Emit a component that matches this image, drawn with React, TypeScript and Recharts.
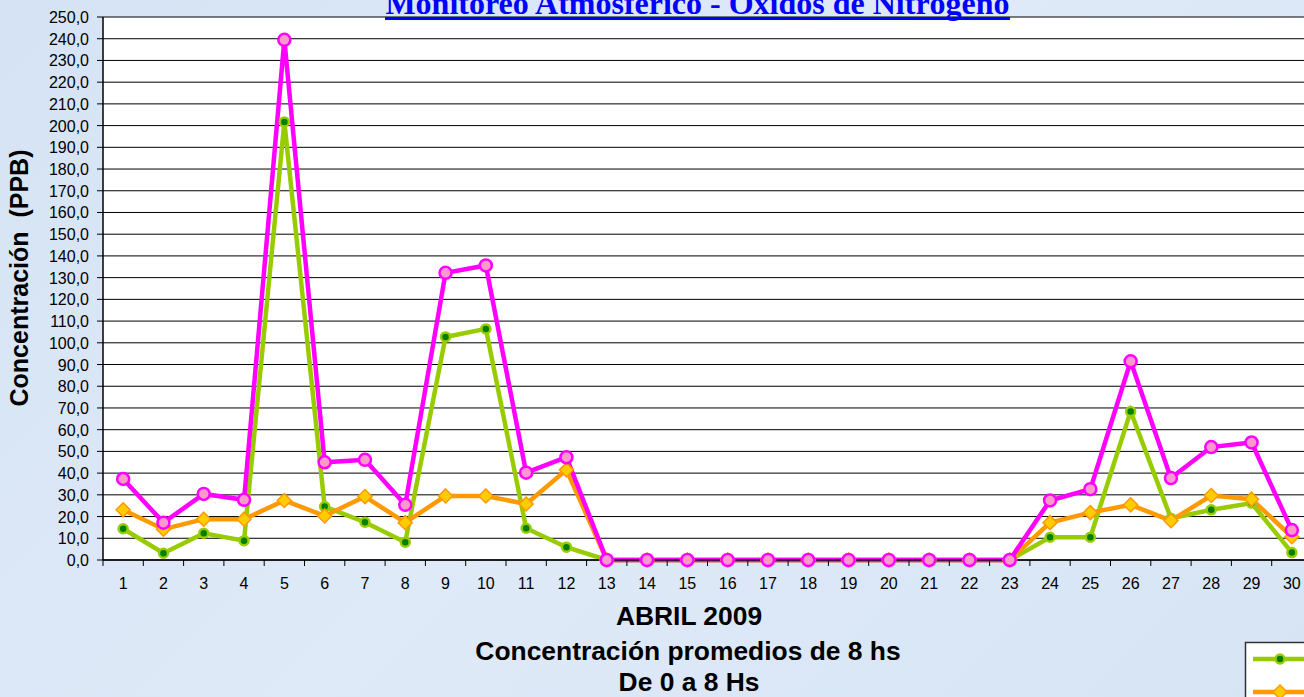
import { LineChart, Line, XAxis, YAxis, CartesianGrid } from "recharts";

const days = [
  "1", "2", "3", "4", "5", "6", "7", "8", "9", "10",
  "11", "12", "13", "14", "15", "16", "17", "18", "19", "20",
  "21", "22", "23", "24", "25", "26", "27", "28", "29", "30",
];

// NO (green), NO2 (orange), NOx (magenta) - ppb
const noValues = [
  14.4, 3.1, 12.3, 8.9, 201.7, 24.6, 17.4, 8.2, 102.7, 106.4,
  14.6, 5.9, 0, 0, 0, 0, 0, 0, 0, 0,
  0, 0, 0, 10.5, 10.5, 68.4, 19.2, 23.1, 26.2, 3.4,
];
const no2Values = [
  23.1, 14.2, 18.8, 18.8, 27.4, 20.3, 29.2, 17.2, 29.5, 29.5,
  25.8, 41.5, 0, 0, 0, 0, 0, 0, 0, 0,
  0, 0, 0, 17.2, 21.8, 25.4, 18.1, 29.7, 28.0, 10.7,
];
const noxValues = [
  37.3, 17.2, 30.4, 27.7, 239.5, 45.0, 46.1, 25.4, 132.2, 135.6,
  40.2, 47.3, 0, 0, 0, 0, 0, 0, 0, 0,
  0, 0, 0, 27.4, 32.6, 91.5, 37.7, 52.0, 54.1, 13.8,
];

const yTicks = [
  0, 10, 20, 30, 40, 50, 60, 70, 80, 90, 100, 110, 120, 130, 140, 150, 160,
  170, 180, 190, 200, 210, 220, 230, 240, 250,
];

const data = days.map((day, i) => ({
  day,
  no: noValues[i],
  no2: no2Values[i],
  nox: noxValues[i],
}));

const CHART_W = 1312;
const CHART_H = 697;
const Y_AXIS_W = 103;
const BAND = (CHART_W - Y_AXIS_W) / days.length;

const SANS = "'Liberation Sans', Arial, sans-serif";

const XTick = (props: any) => {
  const { x, y, payload } = props;
  return (
    <g>
      <line x1={x - BAND / 2} y1={y} x2={x - BAND / 2} y2={y + 6} stroke="#000" strokeWidth={1} />
      <text x={x} y={y + 29} textAnchor="middle" fontSize={16} fontFamily={SANS} fill="#000">
        {payload.value}
      </text>
    </g>
  );
};

const YTick = (props: any) => {
  const { x, y, payload } = props;
  return (
    <text x={x - 8} y={y + 6} textAnchor="end" fontSize={16} fontFamily={SANS} fill="#000">
      {Number(payload.value).toFixed(1).replace(".", ",")}
    </text>
  );
};

const GreenDot = (props: any) => {
  const { cx, cy, index } = props;
  return <circle key={`no-${index}`} cx={cx} cy={cy} r={4.5} fill="#008000" stroke="#99CC00" strokeWidth={2.5} />;
};

const OrangeDot = (props: any) => {
  const { cx, cy, index } = props;
  const s = 7;
  return (
    <path
      key={`no2-${index}`}
      d={`M${cx},${cy - s}L${cx + s},${cy}L${cx},${cy + s}L${cx - s},${cy}Z`}
      fill="#FFCC00"
      stroke="#FF9900"
      strokeWidth={1.5}
    />
  );
};

const PinkDot = (props: any) => {
  const { cx, cy, index } = props;
  return <circle key={`nox-${index}`} cx={cx} cy={cy} r={6} fill="#FF99CC" stroke="#FF00FF" strokeWidth={2.5} />;
};

export default function App() {
  return (
    <div
      style={{
        position: "absolute",
        left: 0,
        top: 0,
        width: 1304,
        height: 697,
        overflow: "hidden",
        background: "linear-gradient(135deg, #d5e3f4 0%, #dfeaf8 50%, #d6e4f4 100%)",
      }}
    >
      <LineChart
        width={CHART_W}
        height={CHART_H}
        data={data}
        margin={{ top: 17, right: 0, bottom: 107, left: 0 }}
      >
        <CartesianGrid vertical={false} stroke="#000" strokeWidth={1} fill="#fff" fillOpacity={1} />
        <XAxis
          dataKey="day"
          height={30}
          interval={0}
          padding={{ left: BAND / 2, right: BAND / 2 }}
          axisLine={{ stroke: "#000", strokeWidth: 1.5 }}
          tickLine={false}
          tickSize={0}
          tickMargin={0}
          tick={<XTick />}
        />
        <YAxis
          width={Y_AXIS_W}
          domain={[0, 250]}
          ticks={yTicks}
          interval={0}
          axisLine={{ stroke: "#000", strokeWidth: 1.5 }}
          tickLine={{ stroke: "#000" }}
          tickSize={6}
          tickMargin={0}
          tick={<YTick />}
        />
        <Line
          dataKey="no"
          name="NO"
          stroke="#99CC00"
          strokeWidth={4.5}
          dot={GreenDot}
          activeDot={false}
          isAnimationActive={false}
        />
        <Line
          dataKey="no2"
          name="NO2"
          stroke="#FF9900"
          strokeWidth={4.5}
          dot={OrangeDot}
          activeDot={false}
          isAnimationActive={false}
        />
        <Line
          dataKey="nox"
          name="NOx"
          stroke="#FF00FF"
          strokeWidth={4.5}
          dot={PinkDot}
          activeDot={false}
          isAnimationActive={false}
        />
      </LineChart>

      <svg
        width={1304}
        height={697}
        style={{ position: "absolute", left: 0, top: 0, pointerEvents: "none" }}
      >
        <text
          x={697.5}
          y={13.5}
          textAnchor="middle"
          fontFamily="'Liberation Serif', 'Times New Roman', serif"
          fontWeight="bold"
          fontSize={32}
          fill="#0000FF"
        >
          Monitoreo Atmosférico - Óxidos de Nitrógeno
        </text>
        <rect x={385} y={17} width={625} height={3} fill="#0000FF" />

        <text
          transform="translate(28, 278) rotate(-90)"
          textAnchor="middle"
          fontFamily={SANS}
          fontWeight="bold"
          fontSize={25}
          fill="#000"
          style={{ whiteSpace: "pre" }}
        >
          Concentración  (PPB)
        </text>

        <g fontFamily={SANS} fontWeight="bold" fontSize={26.4} fill="#000" textAnchor="middle">
          <text x={689} y={624.5}>ABRIL 2009</text>
          <text x={688} y={659.5}>Concentración promedios de 8 hs</text>
          <text x={689} y={691}>De 0 a 8 Hs</text>
        </g>

        <g>
          <rect x={1245.5} y={642.5} width={80} height={80} fill="#fff" stroke="#333" strokeWidth={1.5} />
          <line x1={1253} y1={659} x2={1304} y2={659} stroke="#99CC00" strokeWidth={4.5} />
          <circle cx={1280} cy={659} r={4.5} fill="#008000" stroke="#99CC00" strokeWidth={2.5} />
          <line x1={1253} y1={692} x2={1304} y2={692} stroke="#FF9900" strokeWidth={4.5} />
          <path d="M1280,685L1287,692L1280,699L1273,692Z" fill="#FFCC00" stroke="#FF9900" strokeWidth={1.5} />
        </g>
      </svg>
    </div>
  );
}
